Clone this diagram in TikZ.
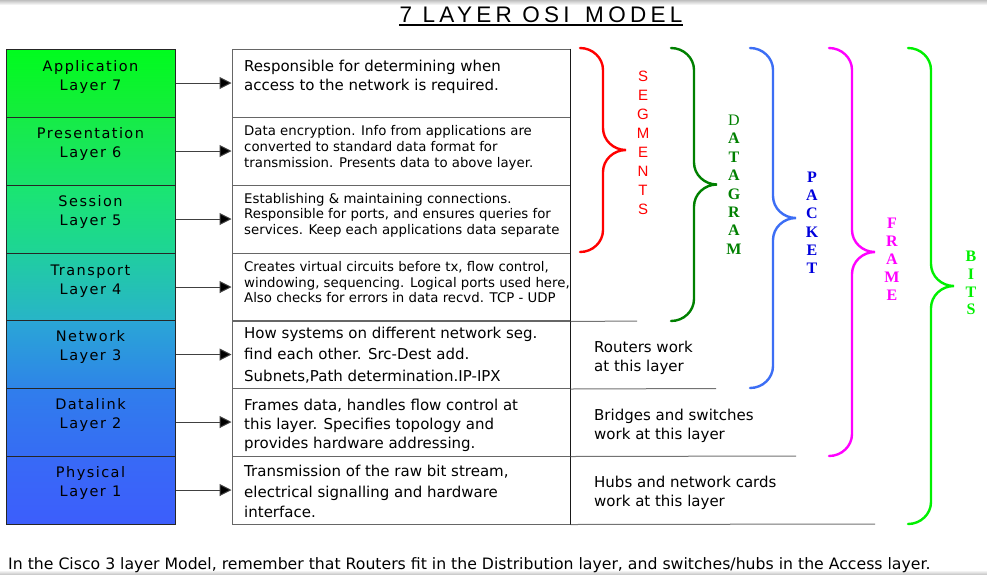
\documentclass[tikz,border=0pt]{standalone}
\usepackage{fontspec}
\setmainfont{DejaVu Sans}
\newfontfamily\titlefont[LetterSpace=19]{Liberation Sans}
\newfontfamily\layerfont[LetterSpace=10]{DejaVu Sans}
\newfontfamily\sansletters{Liberation Sans}
\newfontfamily\serifletters{Liberation Serif}
\usetikzlibrary{arrows.meta}

\definecolor{l7a}{RGB}{0,252,30}\definecolor{l7b}{RGB}{22,236,62}
\definecolor{l6a}{RGB}{22,236,70}\definecolor{l6b}{RGB}{26,226,110}
\definecolor{l5a}{RGB}{26,230,112}\definecolor{l5b}{RGB}{30,212,150}
\definecolor{l4a}{RGB}{32,206,160}\definecolor{l4b}{RGB}{40,180,200}
\definecolor{l3a}{RGB}{42,166,214}\definecolor{l3b}{RGB}{46,132,232}
\definecolor{l2a}{RGB}{48,126,236}\definecolor{l2b}{RGB}{54,108,244}
\definecolor{l1a}{RGB}{56,106,246}\definecolor{l1b}{RGB}{60,94,252}
\definecolor{segred}{RGB}{255,0,0}
\definecolor{dgreen}{RGB}{0,128,0}
\definecolor{pblue}{RGB}{60,110,245}
\definecolor{ptext}{RGB}{0,0,220}
\definecolor{fmag}{RGB}{255,0,255}
\definecolor{bgreen}{RGB}{0,240,0}

\tikzset{
  layerbox/.style={draw=black!85, line width=1pt, minimum width=169pt, minimum height=68pt, inner sep=0pt},
  layertext/.style={font=\layerfont\fontsize{14.5}{19}\selectfont, align=center, anchor=base, inner sep=0pt},
  descbox/.style={draw=black!60, line width=1pt, minimum width=338pt, minimum height=68pt, inner sep=0pt},
  bigtext/.style={font=\fontsize{15}{20}\selectfont, align=left, anchor=base west, inner sep=0pt},
  smalltext/.style={font=\fontsize{13.3}{15.3}\selectfont, align=left, anchor=base west, inner sep=0pt},
  feed/.style={draw=black!75, line width=1pt, -{Triangle[length=12pt,width=12pt,fill=black]}},
  bracestyle/.style={line width=2.4pt, line cap=round},
  sideline/.style={draw=black!55, line width=1pt},
  letters/.style={align=center, anchor=base, inner sep=0pt},
}

\newcommand\osibrace[4]{%
  \draw[bracestyle,#1] (#2,#3) .. controls ({#2+12.7},#3) and ({#2+23},{#3+9.9}) .. ({#2+23},{#3+22})
   -- ({#2+23},{(#3+#4)/2-22}) .. controls ({#2+23},{(#3+#4)/2-9.9}) and ({#2+33.3},{(#3+#4)/2}) .. ({#2+46},{(#3+#4)/2})
   .. controls ({#2+33.3},{(#3+#4)/2}) and ({#2+23},{(#3+#4)/2+9.9}) .. ({#2+23},{(#3+#4)/2+22})
   -- ({#2+23},{#4-22}) .. controls ({#2+23},{#4-9.9}) and ({#2+12.7},#4) .. (#2,#4);
}

\begin{document}
\begin{tikzpicture}[x=1pt,y=-1pt]
\useasboundingbox (0,0) rectangle (987,574);
\fill[white] (0,0) rectangle (987,574);
\shade[top color=black!25, bottom color=white] (0,0) rectangle (987,5);
\shade[top color=white, bottom color=black!20] (0,570) rectangle (987,574);

% title
\node[font=\titlefont\fontsize{22.5}{26}\selectfont, anchor=base, inner sep=0pt] (title) at (541,22) {7 LAYER OSI\hspace{5pt} MODEL};
\draw[line width=1.3pt] ([yshift=-3pt]title.base west) -- ([yshift=-3pt]title.base east);

% layer boxes
\node[layerbox, top color=l7a, bottom color=l7b] (L7) at (90.5,83) {};
\node[layerbox, top color=l6a, bottom color=l6b] (L6) at (90.5,151) {};
\node[layerbox, top color=l5a, bottom color=l5b] (L5) at (90.5,219) {};
\node[layerbox, top color=l4a, bottom color=l4b] (L4) at (90.5,287) {};
\node[layerbox, top color=l3a, bottom color=l3b] (L3) at (90.5,354.5) {};
\node[layerbox, top color=l2a, bottom color=l2b] (L2) at (90.5,422) {};
\node[layerbox, top color=l1a, bottom color=l1b] (L1) at (90.5,490) {};

% (base anchor = baseline of the last line)
\node[layertext] (L7t) at (90.5,90) {Application\\Layer 7};
\node[layertext] (L6t) at (90.5,157.5) {Presentation\\Layer 6};
\node[layertext] (L5t) at (90.5,225.5) {Session\\Layer 5};
\node[layertext] (L4t) at (90.5,294) {Transport\\Layer 4};
\node[layertext] (L3t) at (90.5,360.5) {Network\\Layer 3};
\node[layertext] (L2t) at (90.5,428.5) {Datalink\\Layer 2};
\node[layertext] (L1t) at (90.5,496.5) {Physical\\Layer 1};

% description boxes
\node[descbox] (D7) at (401,83) {};
\node[descbox] (D6) at (401,151) {};
\node[descbox] (D5) at (401,219) {};
\node[descbox] (D4) at (401,287) {};
\node[descbox] (D3) at (401,354.5) {};
\node[descbox] (D2) at (401,422) {};
\node[descbox] (D1) at (401,490) {};

\node[bigtext, font=\fontsize{15}{19.5}\selectfont] (D7t) at (244,90.5) {Responsible for determining when\\access to the network is required.};
\node[smalltext, font=\fontsize{13.3}{16}\selectfont] (D6t) at (244,167) {Data encryption. Info from applications are\\converted to standard data format for\\transmission. Presents data to above layer.};
\node[smalltext] (D5t) at (244,234) {Establishing \& maintaining connections.\\Responsible for ports, and ensures queries for\\services. Keep each applications data separate};
\node[smalltext] (D4t) at (244,302.5) {Creates virtual circuits before tx, flow control,\\windowing, sequencing. Logical ports used here,\\Also checks for errors in data recvd. TCP - UDP};
\node[bigtext, font=\fontsize{15}{21.5}\selectfont] (D3t) at (244,381) {How systems on different network seg.\\find each other. Src-Dest add.\\Subnets,Path determination.IP-IPX};
\node[bigtext, font=\fontsize{15}{19}\selectfont] (D2t) at (244,448) {Frames data, handles flow control at\\this layer. Specifies topology and\\provides hardware addressing.};
\node[bigtext, font=\fontsize{15}{20.5}\selectfont] (D1t) at (244,517.5) {Transmission of the raw bit stream,\\electrical signalling and hardware\\interface.};

% arrows
\foreach \k in {7,6,5,4,3,2,1} {
  \draw[feed] (L\k.east) -- (D\k.west);
}

% right section
\draw[line width=1pt, black!90] (D7.north east) -- (D1.south east);
\coordinate (e4) at (637,321);
\coordinate (e3) at (716,388.5);
\coordinate (e2) at (796,456);
\coordinate (e1) at (875,524);
\draw[sideline] (D4.south east) -- (e4);
\draw[sideline] (D3.south east) -- (e3);
\draw[sideline] (D2.south east) -- (e2);
\draw[sideline] (D1.south east) -- (e1);

\node[bigtext, font=\fontsize{15}{19}\selectfont] (R3) at (594,371) {Routers work\\at this layer};
\node[bigtext, font=\fontsize{15}{18.5}\selectfont] (R2) at (594,439) {Bridges and switches\\work at this layer};
\node[bigtext, font=\fontsize{15}{19}\selectfont] (R1) at (594,506.5) {Hubs and network cards\\work at this layer};

% braces
\osibrace{segred}{580}{48}{252}
\osibrace{dgreen}{671}{48}{321}
\osibrace{pblue}{750}{48}{388}
\osibrace{fmag}{829}{48}{456}
\osibrace{bgreen}{908}{48}{524}

\node[letters, text=segred, font=\sansletters\fontsize{15}{19}\selectfont] (seg) at (643,214.5) {S\\E\\G\\M\\E\\N\\T\\S};
\node[letters, text=dgreen, font=\serifletters\bfseries\fontsize{16}{18.4}\selectfont] (dat) at (734,254.3) {{\mdseries D}\\A\\T\\A\\G\\R\\A\\M};
\node[letters, text=ptext, font=\serifletters\bfseries\fontsize{16}{18.2}\selectfont] (pac) at (812,273.5) {P\\A\\C\\K\\E\\T};
\node[letters, text=fmag, font=\serifletters\bfseries\fontsize{16}{18}\selectfont] (fra) at (892,300.5) {F\\R\\A\\M\\E};
\node[letters, text=bgreen, font=\serifletters\bfseries\fontsize{16}{17.8}\selectfont] (bit) at (971,314.9) {B\\I\\T\\S};

% footer
\node[anchor=base west, inner sep=0pt, font=\fontsize{15.7}{18}\selectfont] (foot) at (8,569) {In the Cisco 3 layer Model, remember that Routers fit in the Distribution layer, and switches/hubs in the Access layer.};
\end{tikzpicture}
\end{document}
